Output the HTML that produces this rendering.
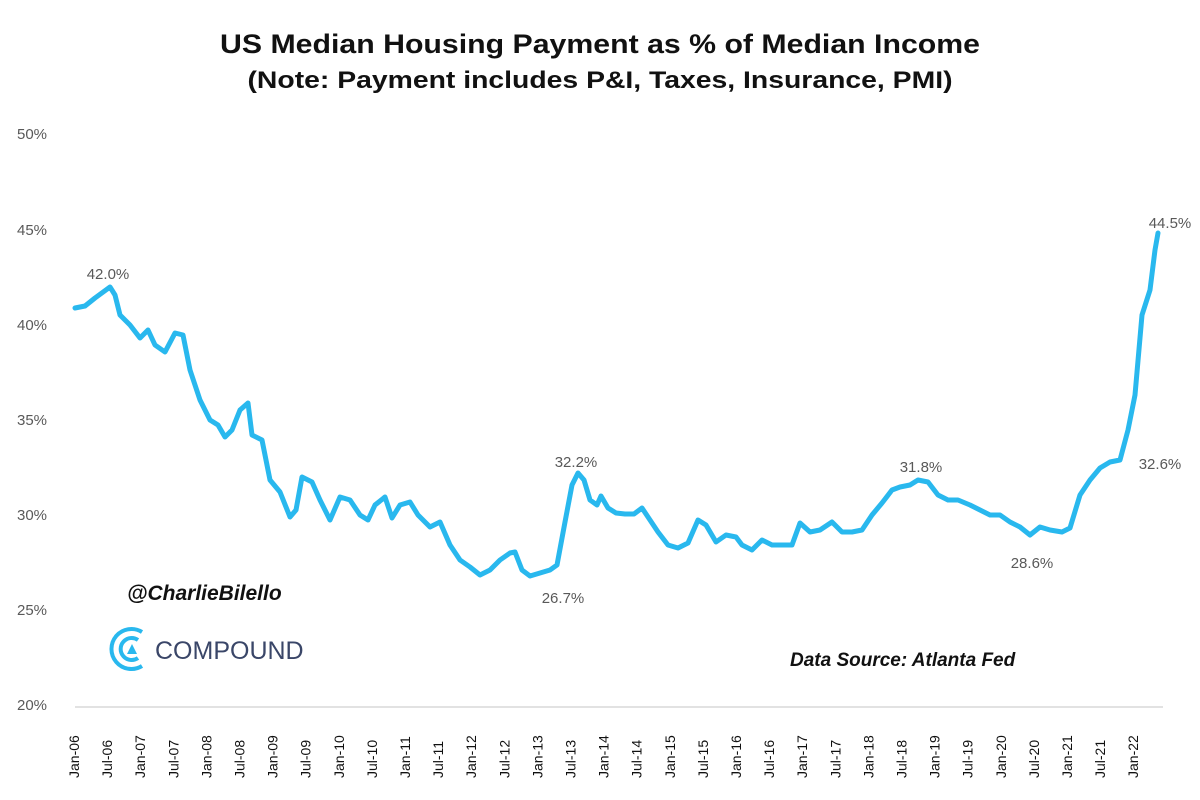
<!DOCTYPE html>
<html><head><meta charset="utf-8"><style>
body{margin:0;background:#fff;}
svg{display:block;font-family:"Liberation Sans",sans-serif;}
</style></head><body>
<svg width="1200" height="800" viewBox="0 0 1200 800">
<text x="600" y="53" text-anchor="middle" font-size="27" font-weight="bold" fill="#111" textLength="760" lengthAdjust="spacingAndGlyphs">US Median Housing Payment as % of Median Income</text>
<text x="600" y="88" text-anchor="middle" font-size="24" font-weight="bold" fill="#111" textLength="705" lengthAdjust="spacingAndGlyphs">(Note: Payment includes P&amp;I, Taxes, Insurance, PMI)</text>
<g font-size="15" fill="#595959">
<text x="17" y="139">50%</text><text x="17" y="235">45%</text><text x="17" y="330">40%</text>
<text x="17" y="425">35%</text><text x="17" y="520">30%</text><text x="17" y="615">25%</text><text x="17" y="710">20%</text>
</g>
<line x1="75" y1="707" x2="1163" y2="707" stroke="#d9d9d9" stroke-width="1.5"/>
<g id="xl" font-size="14" fill="#111"></g>
<polyline fill="none" stroke="#29b8ee" stroke-width="5" stroke-linejoin="round" stroke-linecap="round" points="75,308 85,306 95,298 110,287 115,295 120,315 130,325 140,338 148,330 155,345 165,352 175,333 183,335 190,370 200,400 210,420 218,425 225,437 232,430 240,410 248,403 252,435 262,440 270,480 280,492 290,517 296,510 302,477 312,482 320,500 330,520 340,497 350,500 360,515 368,520 375,505 385,497 392,518 400,505 410,502 418,515 430,527 440,522 450,545 460,560 470,567 480,575 490,570 500,560 510,553 515,552 522,570 530,576 540,573 550,570 557,565 565,522 572,485 578,473 584,480 590,500 597,505 601,496 608,508 616,513 625,514 634,514 642,508 650,520 658,532 668,545 678,548 688,543 698,520 706,525 716,542 726,535 736,537 742,545 752,550 762,540 772,545 782,545 792,545 800,523 810,532 820,530 832,522 842,532 852,532 862,530 872,515 882,503 892,490 900,487 910,485 918,480 928,482 938,495 948,500 958,500 970,505 980,510 990,515 1000,515 1010,522 1020,527 1030,535 1040,527 1050,530 1062,532 1070,528 1080,495 1090,480 1100,468 1110,462 1120,460 1128,430 1135,395 1142,315 1150,290 1155,250 1158,233"/>
<g font-size="15" fill="#595959" text-anchor="middle">
<text x="108" y="279">42.0%</text><text x="576" y="467">32.2%</text><text x="563" y="603">26.7%</text>
<text x="921" y="472">31.8%</text><text x="1032" y="568">28.6%</text><text x="1170" y="228">44.5%</text><text x="1160" y="469">32.6%</text>
</g>
<text x="127" y="600" font-size="21" font-weight="bold" font-style="italic" fill="#111">@CharlieBilello</text>
<g fill="none" stroke="#29b8ee" stroke-width="4">
<path d="M142,632 A20,20 0 1 0 142,666"/>
<path d="M138,640 A11,11 0 1 0 138,658"/>
</g>
<polygon points="132,644 137,654 127,654" fill="#29b8ee"/>
<text x="155" y="659" font-size="25" fill="#3a4668">COMPOUND</text>
<text x="790" y="666" font-size="19" font-weight="bold" font-style="italic" fill="#111">Data Source: Atlanta Fed</text>
</svg>
<script>
var g=document.getElementById('xl'),s='';
for(var i=0;i<33;i++){var yr=6+Math.floor(i/2),lab=(i%2?'Jul-':'Jan-')+(yr<10?'0'+yr:yr);var x=74+i*33.1+5;
s+='<text transform="translate('+x+',778) rotate(-90)">'+lab+'</text>';}
g.innerHTML=s;
</script>
</body></html>
